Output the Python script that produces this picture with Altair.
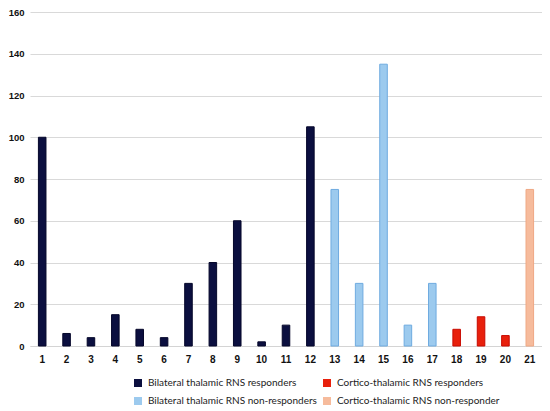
import altair as alt
import pandas as pd

patients = [str(i) for i in range(1, 22)]
values = [100, 6, 4, 15, 8, 4, 30, 40, 60, 2, 10, 105, 75, 30, 135, 10, 30, 8, 14, 5, 75]
G1 = "Bilateral thalamic RNS responders"
G2 = "Cortico-thalamic RNS responders"
G3 = "Bilateral thalamic RNS non-responders"
G4 = "Cortico-thalamic RNS non-responder"
groups = [G1] * 12 + [G3] * 5 + [G2] * 3 + [G4]
group_order = [G1, G3, G2, G4]
fill_colors = ["#0b0f3f", "#9ccaee", "#e8200c", "#f6bb9c"]
stroke_colors = ["#05072a", "#6fabe0", "#c80a00", "#efa884"]
y_ticks = [0, 20, 40, 60, 80, 100, 120, 140, 160]

df = pd.DataFrame({"patient": patients, "value": values, "group": groups})

chart = alt.Chart(df).mark_bar(strokeWidth=1).encode(
    x=alt.X("patient:N", sort=patients, title=None,
            scale=alt.Scale(paddingInner=0.69, paddingOuter=0.345),
            axis=alt.Axis(labelAngle=0, ticks=False, labelPadding=8,
                          domainColor="#d4d4d4", labelFont="Liberation Sans",
                          labelFontWeight="bold", labelFontSize=10,
                          labelColor="#111111")),
    y=alt.Y("value:Q", title=None,
            scale=alt.Scale(domain=[0, 160], nice=False),
            axis=alt.Axis(values=y_ticks, domain=False, ticks=False, labelPadding=6,
                          gridColor="#d9d9d9", labelFont="Liberation Sans",
                          labelFontWeight="bold", labelFontSize=9.5,
                          labelColor="#111111")),
    color=alt.Color("group:N", sort=group_order,
                    scale=alt.Scale(domain=group_order, range=fill_colors),
                    legend=alt.Legend(title=None, orient="none", legendX=103, legendY=366,
                                      columns=2, symbolType="square", symbolSize=64,
                                      symbolStrokeWidth=0, columnPadding=5, rowPadding=8,
                                      labelFont="Lato", labelFontSize=10, labelColor="#222222",
                                      labelOffset=5, labelLimit=300)),
    stroke=alt.Stroke("group:N", sort=group_order,
                      scale=alt.Scale(domain=group_order, range=stroke_colors),
                      legend=None),
).properties(
    width=512, height=334,
    autosize=alt.AutoSizeParams(type="none"),
    padding={"left": 22, "top": 4, "right": 0, "bottom": 62},
).configure_view(stroke=None)

chart.save("out.html", embed_options={"renderer": "svg", "actions": False})
